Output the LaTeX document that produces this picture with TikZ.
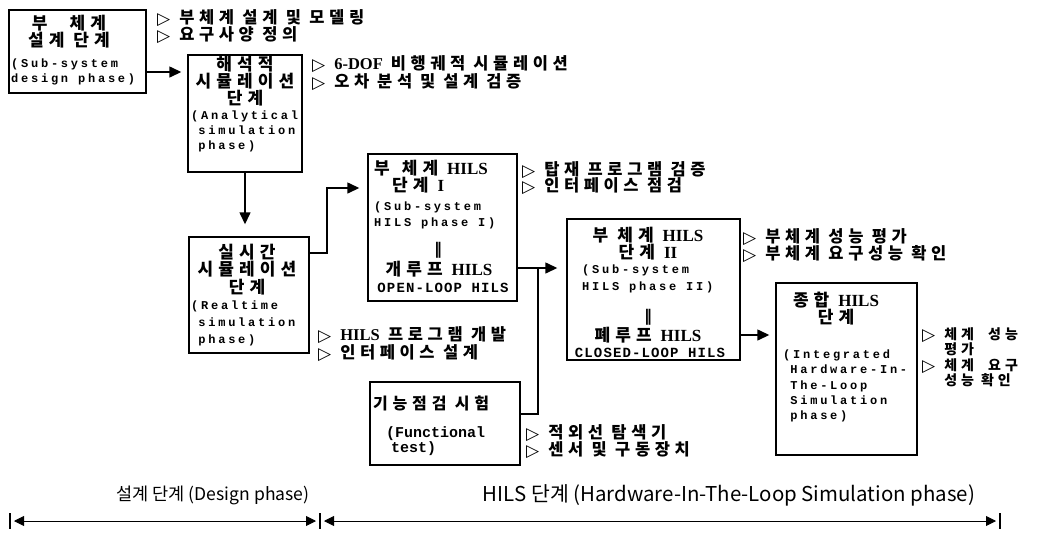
\documentclass[tikz,border=0pt]{standalone}
\usepackage{fontspec}
\usetikzlibrary{arrows.meta}
\newfontfamily\kr{Noto Sans CJK KR}
\newfontfamily\krs{Noto Sans CJK KR}[LetterSpace=30]
\newfontfamily\krl{Noto Sans CJK KR}[LetterSpace=28]
\newfontfamily\mono{Liberation Mono}[LetterSpace=23]
\newfontfamily\monoa{Liberation Mono}[LetterSpace=8]
\newfontfamily\monon{Liberation Mono}
\newfontfamily\ser{Liberation Serif}
\newfontfamily\sym{DejaVu Sans}
\newcommand\mytri{\smash{\raisebox{-1pt}{\sym\mdseries\fontsize{17}{13}\selectfont ▷}}\hspace{9pt}}
\newcommand\ms{\hphantom{x}}
\lineskiplimit=-30pt
\normallineskiplimit=-30pt
\tikzset{
  box/.style={draw, line width=1.4pt, inner sep=0pt},
  ln/.style={line width=1.4pt},
  arr/.style={line width=1.4pt, -{Triangle[length=12pt,width=11pt]}},
  barr/.style={line width=0.9pt, {Triangle[length=10pt,width=10pt]}-{Triangle[length=10pt,width=10pt]}},
  kt/.style={font=\krs\bfseries\fontsize{17}{#1}\selectfont, inner sep=0pt, align=center},
  kt/.default=17,
  ktl/.style={font=\krs\bfseries\fontsize{17}{#1}\selectfont, inner sep=0pt, align=left, anchor=west},
  ktl/.default=17,
  et/.style={font=\mono\bfseries\fontsize{12}{#1}\selectfont, inner sep=0pt, align=left, anchor=west},
  et/.default=15,
  lab/.style={font=\krl\bfseries\fontsize{16.5}{#1}\selectfont, inner sep=0pt, align=left, anchor=west},
  lab/.default=16.5,
  dbar/.style={font=\sym\bfseries\fontsize{16}{16}\selectfont, inner sep=0pt},
}
\begin{document}
\begin{tikzpicture}[x=1pt,y=-1pt]
\useasboundingbox (0,0) rectangle (1045,533);

% boxes
\node[box, minimum width=137pt, minimum height=83pt] (A) at (77.5,51.5) {};
\node[box, minimum width=114pt, minimum height=117pt] (B) at (245,113.5) {};
\node[box, minimum width=120pt, minimum height=116pt] (C) at (249,295) {};
\node[box, minimum width=149pt, minimum height=147pt] (D) at (442.5,227.5) {};
\node[box, minimum width=173pt, minimum height=141pt] (E) at (653.5,289.5) {};
\node[box, minimum width=141pt, minimum height=172pt] (F) at (846.5,369) {};
\node[box, minimum width=150pt, minimum height=83pt] (G) at (445,423.5) {};

% box texts
\node[kt] (tA1) at (69,32) {부\hspace{22pt}체계\\설계 단계};
\node[et] (tA2) at (11,71.5) {(Sub-system\\design phase)};

\node[kt] (tB1) at (245,81) {해석적\\시뮬레이션\\단계};
\node[et] (tB2) at (191,131) {(Analytical\\\ms simulation\\\ms phase)};

\node[kt=17.5] (tC1) at (247,269.5) {실시간\\시뮬레이션\\단계};
\node[et=17] (tC2) at (191,323) {(Realtime\\\ms simulation\\\ms phase)};

\node[ktl] (tD1) at (374,177) {부\hspace{12pt}체계 {\ser\bfseries HILS}\\\hspace*{18pt}단계 {\ser\bfseries I}};
\node[et=16] (tD2) at (374,215) {(Sub-system\\HILS phase I)};
\node[dbar] (tD3) at (438,250) {‖};
\node[kt] (tD4) at (439,269) {개루프 {\ser\bfseries HILS}};
\node[font=\monoa\bfseries\fontsize{14}{14}\selectfont, inner sep=0pt] (tD5) at (443,288) {OPEN-LOOP HILS};

\node[kt] (tE1) at (648,243.5) {부 체계 {\ser\bfseries HILS}\\단계 {\ser\bfseries II}};
\node[et=17] (tE2) at (582,279) {(Sub-system\\HILS phase II)};
\node[dbar] (tE3) at (648,317) {‖};
\node[kt] (tE4) at (648,335) {폐루프 {\ser\bfseries HILS}};
\node[font=\monoa\bfseries\fontsize{14}{14}\selectfont, inner sep=0pt] (tE5) at (650,353) {CLOSED-LOOP HILS};

\node[kt] (tF1) at (836,308.5) {종합 {\ser\bfseries HILS}\\단계};
\node[et=15.25] (tF2) at (783,386) {(Integrated\\\ms Hardware-In-\\\ms The-Loop\\\ms Simulation\\\ms phase)};

\node[font=\krs\bfseries\fontsize{16}{15}\selectfont, inner sep=0pt, anchor=west] (tG1) at (373,403) {기능점검 시험};
\node[font=\monon\bfseries\fontsize{15}{15}\selectfont, inner sep=0pt, align=left, anchor=west] (tG2) at (386,441.5) {(Functional\\\hspace*{5pt}test)};

% labels
\node[lab] (lA) at (157,26) {\mytri 부체계 설계 및 모델링\\\mytri 요구사양 정의};
\node[lab=18] (lB) at (312,72) {\mytri{\ser\bfseries 6-DOF}\hspace{8pt}비행궤적\hspace{8pt}시뮬레이션\\\mytri 오차\hspace{8pt}분석\hspace{8pt}및\hspace{8pt}설계\hspace{8pt}검증};
\node[lab=18] (lC) at (318,343) {\mytri{\ser\bfseries HILS} 프로그램 개발\\\mytri 인터페이스 설계};
\node[lab] (lD) at (522,177.5) {\mytri 탑재 프로그램 검증\\\mytri 인터페이스 점검};
\node[lab] (lE) at (743,245) {\mytri 부체계 성능 평가\\\mytri 부체계 요구성능 확인};
\node[font=\krl\bfseries\fontsize{14}{15.5}\selectfont, inner sep=0pt, align=left, anchor=west] (lF) at (922,357.5) {\mytri 체계\ \ 성능\\\hphantom{\mytri}평가\\\mytri 체계\ \ 요구\\\hphantom{\mytri}성능 확인};
\node[lab] (lG) at (526,441) {\mytri 적외선 탐색기\\\mytri 센서 및 구동장치};

% connector helper coordinates
\coordinate (ab) at (0,72);
\coordinate (cd1) at (327,253);
\coordinate (cd2) at (327,188);
\coordinate (de) at (538,268);
\coordinate (gj) at (538,414);
\coordinate (ef) at (0,335);

% connectors
\draw[arr, shorten >=6pt] (A.east |- ab) -- (B.west |- ab);
\draw[arr, shorten >=12pt] (B.south) -- (B.south |- C.north);
\draw[arr, shorten >=8pt] (C.east |- cd1) -- (cd1) -- (cd2) -- (D.west |- cd2);
\draw[arr, shorten >=9pt] (D.east |- de) -- (E.west |- de);
\draw[ln] (G.east |- gj) -- (gj) -- (de);
\draw[arr, shorten >=6pt] (E.east |- ef) -- (F.west |- ef);

% bottom phase scale
\coordinate (s1) at (10,521);
\coordinate (s2) at (320,521);
\coordinate (s3) at (1000,521);
\draw[line width=1.1pt] ([yshift=8pt]s1) -- ([yshift=-8pt]s1);
\draw[line width=1.1pt] ([yshift=8pt]s2) -- ([yshift=-8pt]s2);
\draw[line width=1.1pt] ([yshift=8pt]s3) -- ([yshift=-8pt]s3);
\draw[barr, shorten <=4pt, shorten >=4pt] (s1) -- (s2);
\draw[barr, shorten <=4pt, shorten >=4pt] (s2) -- (s3);
\node[inner sep=0pt, font=\kr\fontsize{14}{14}\selectfont] (p1) at (213,495) {\resizebox{193pt}{!}{설계 단계 (Design phase)}};
\node[inner sep=0pt, font=\kr\fontsize{14}{14}\selectfont] (p2) at (729,495) {\resizebox{492pt}{!}{HILS 단계 (Hardware-In-The-Loop Simulation phase)}};
\end{tikzpicture}
\end{document}
